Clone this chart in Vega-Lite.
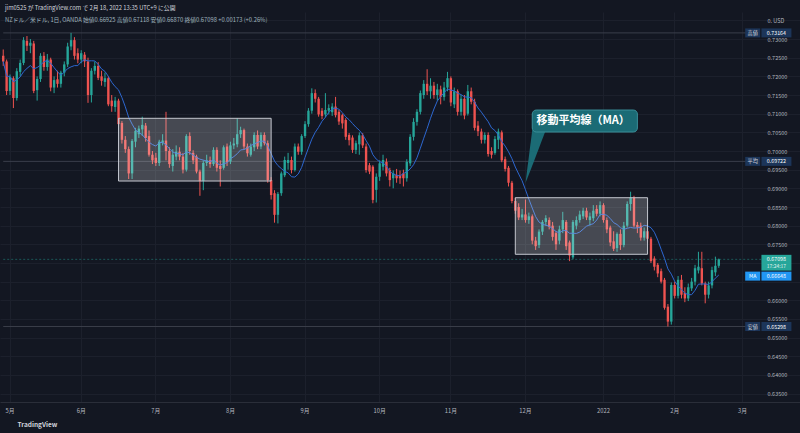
{
  "$schema": "https://vega.github.io/schema/vega-lite/v6.json",
  "width": 800,
  "height": 390,
  "autosize": {"type": "none"},
  "padding": {"left": 0, "right": 0, "top": 12, "bottom": 31},
  "background": "#131722",
  "config": {
    "font": "Noto Sans CJK JP",
    "view": {"stroke": null},
    "axis": {"labelFont": "Noto Sans CJK JP", "titleFont": "Noto Sans CJK JP", "gridColor": "#1c202c", "gridWidth": 1, "labelOverlap": false}
  },
  "title": {
    "text": "jim0525 が TradingView.com で 2月 18, 2022 13:35 UTC+9 に公開",
    "subtitle": "NZドル／米ドル, 1日, OANDA  始値0.66925  高値0.67118  安値0.66870  終値0.67098  +0.00173 (+0.26%)",
    "anchor": "start",
    "frame": "group",
    "orient": "top",
    "offset": -11,
    "dx": 5,
    "font": "Noto Sans CJK JP",
    "fontSize": 5.8,
    "fontWeight": "normal",
    "color": "#d1d4dc",
    "subtitleFont": "Noto Sans CJK JP",
    "subtitleFontSize": 5.8,
    "subtitleColor": "#9fb3bd",
    "subtitlePadding": 6
  },
  "datasets": {
    "ohlc": [
      {"d":"2021-04-29","o":0.7255,"h":0.7272,"l":0.7228,"c":0.7240},
      {"d":"2021-04-30","o":0.7240,"h":0.7245,"l":0.7150,"c":0.7161},
      {"d":"2021-05-03","o":0.7161,"h":0.7205,"l":0.7150,"c":0.7198},
      {"d":"2021-05-04","o":0.7195,"h":0.7200,"l":0.7115,"c":0.7142},
      {"d":"2021-05-05","o":0.7142,"h":0.7222,"l":0.7135,"c":0.7214},
      {"d":"2021-05-06","o":0.7212,"h":0.7245,"l":0.7200,"c":0.7236},
      {"d":"2021-05-07","o":0.7236,"h":0.7305,"l":0.7230,"c":0.7297},
      {"d":"2021-05-10","o":0.7295,"h":0.7308,"l":0.7268,"c":0.7282},
      {"d":"2021-05-11","o":0.7282,"h":0.7300,"l":0.7262,"c":0.7290},
      {"d":"2021-05-12","o":0.7288,"h":0.7295,"l":0.7155,"c":0.7161},
      {"d":"2021-05-13","o":0.7163,"h":0.7200,"l":0.7135,"c":0.7193},
      {"d":"2021-05-14","o":0.7193,"h":0.7262,"l":0.7185,"c":0.7255},
      {"d":"2021-05-17","o":0.7255,"h":0.7265,"l":0.7215,"c":0.7225},
      {"d":"2021-05-18","o":0.7225,"h":0.7260,"l":0.7215,"c":0.7245},
      {"d":"2021-05-19","o":0.7245,"h":0.7250,"l":0.7160,"c":0.7170},
      {"d":"2021-05-20","o":0.7170,"h":0.7200,"l":0.7155,"c":0.7190},
      {"d":"2021-05-21","o":0.7192,"h":0.7215,"l":0.7170,"c":0.7180},
      {"d":"2021-05-24","o":0.7180,"h":0.7215,"l":0.7170,"c":0.7210},
      {"d":"2021-05-25","o":0.7210,"h":0.7240,"l":0.7200,"c":0.7232},
      {"d":"2021-05-26","o":0.7232,"h":0.7290,"l":0.7225,"c":0.7280},
      {"d":"2021-05-27","o":0.7280,"h":0.73164,"l":0.7270,"c":0.7297},
      {"d":"2021-05-28","o":0.7297,"h":0.7305,"l":0.7245,"c":0.7255},
      {"d":"2021-05-31","o":0.7262,"h":0.7275,"l":0.7235,"c":0.7245},
      {"d":"2021-06-01","o":0.7245,"h":0.7270,"l":0.7235,"c":0.7262},
      {"d":"2021-06-02","o":0.7258,"h":0.7265,"l":0.7225,"c":0.7240},
      {"d":"2021-06-03","o":0.7240,"h":0.7250,"l":0.7129,"c":0.7150},
      {"d":"2021-06-04","o":0.7150,"h":0.7222,"l":0.7130,"c":0.7215},
      {"d":"2021-06-07","o":0.7215,"h":0.7240,"l":0.7205,"c":0.7228},
      {"d":"2021-06-08","o":0.7228,"h":0.7238,"l":0.7190,"c":0.7196},
      {"d":"2021-06-09","o":0.7200,"h":0.7215,"l":0.7175,"c":0.7188},
      {"d":"2021-06-10","o":0.7185,"h":0.7210,"l":0.7172,"c":0.7195},
      {"d":"2021-06-11","o":0.7195,"h":0.7200,"l":0.7120,"c":0.7125},
      {"d":"2021-06-14","o":0.7135,"h":0.7150,"l":0.7105,"c":0.7120},
      {"d":"2021-06-15","o":0.7118,"h":0.7145,"l":0.7105,"c":0.7135},
      {"d":"2021-06-16","o":0.7135,"h":0.7140,"l":0.7065,"c":0.7072},
      {"d":"2021-06-17","o":0.7075,"h":0.7080,"l":0.7020,"c":0.7030},
      {"d":"2021-06-18","o":0.7030,"h":0.7040,"l":0.6995,"c":0.7005},
      {"d":"2021-06-21","o":0.7005,"h":0.7012,"l":0.6925,"c":0.6940},
      {"d":"2021-06-22","o":0.6940,"h":0.7032,"l":0.6925,"c":0.7027},
      {"d":"2021-06-23","o":0.7025,"h":0.7062,"l":0.7010,"c":0.7054},
      {"d":"2021-06-24","o":0.7045,"h":0.7068,"l":0.7035,"c":0.7060},
      {"d":"2021-06-25","o":0.7058,"h":0.7092,"l":0.7040,"c":0.7070},
      {"d":"2021-06-28","o":0.7068,"h":0.7075,"l":0.7025,"c":0.7035},
      {"d":"2021-06-29","o":0.7040,"h":0.7055,"l":0.6985,"c":0.6990},
      {"d":"2021-06-30","o":0.6990,"h":0.7000,"l":0.6965,"c":0.6975},
      {"d":"2021-07-01","o":0.6982,"h":0.6995,"l":0.6960,"c":0.6968},
      {"d":"2021-07-02","o":0.6968,"h":0.7030,"l":0.6960,"c":0.7025},
      {"d":"2021-07-05","o":0.7022,"h":0.7045,"l":0.7015,"c":0.7028},
      {"d":"2021-07-06","o":0.7028,"h":0.7105,"l":0.6975,"c":0.7000},
      {"d":"2021-07-07","o":0.7000,"h":0.7010,"l":0.6955,"c":0.6965},
      {"d":"2021-07-08","o":0.6960,"h":0.7005,"l":0.6945,"c":0.6990},
      {"d":"2021-07-09","o":0.6985,"h":0.7015,"l":0.6975,"c":0.6998},
      {"d":"2021-07-12","o":0.6998,"h":0.7010,"l":0.6975,"c":0.6985},
      {"d":"2021-07-13","o":0.6985,"h":0.6995,"l":0.6940,"c":0.6950},
      {"d":"2021-07-14","o":0.6950,"h":0.7045,"l":0.6945,"c":0.7040},
      {"d":"2021-07-15","o":0.7040,"h":0.7050,"l":0.6990,"c":0.7000},
      {"d":"2021-07-16","o":0.6995,"h":0.7002,"l":0.6965,"c":0.6975},
      {"d":"2021-07-19","o":0.6985,"h":0.6990,"l":0.6940,"c":0.6945},
      {"d":"2021-07-20","o":0.6945,"h":0.6950,"l":0.6880,"c":0.6920},
      {"d":"2021-07-21","o":0.6920,"h":0.6975,"l":0.6895,"c":0.6968},
      {"d":"2021-07-22","o":0.6968,"h":0.6990,"l":0.6960,"c":0.6975},
      {"d":"2021-07-23","o":0.6975,"h":0.6985,"l":0.6955,"c":0.6965},
      {"d":"2021-07-26","o":0.6965,"h":0.7010,"l":0.6960,"c":0.7003},
      {"d":"2021-07-27","o":0.7003,"h":0.7010,"l":0.6945,"c":0.6955},
      {"d":"2021-07-28","o":0.6960,"h":0.6975,"l":0.6905,"c":0.6952},
      {"d":"2021-07-29","o":0.6955,"h":0.7015,"l":0.6950,"c":0.7010},
      {"d":"2021-07-30","o":0.7012,"h":0.7020,"l":0.6960,"c":0.6970},
      {"d":"2021-08-02","o":0.6972,"h":0.7025,"l":0.6965,"c":0.7015},
      {"d":"2021-08-03","o":0.7015,"h":0.7035,"l":0.7005,"c":0.7020},
      {"d":"2021-08-04","o":0.7018,"h":0.7088,"l":0.7010,"c":0.7045},
      {"d":"2021-08-05","o":0.7045,"h":0.7065,"l":0.7035,"c":0.7056},
      {"d":"2021-08-06","o":0.7056,"h":0.7060,"l":0.7005,"c":0.7012},
      {"d":"2021-08-09","o":0.7012,"h":0.7020,"l":0.6985,"c":0.6994},
      {"d":"2021-08-10","o":0.6990,"h":0.7020,"l":0.6985,"c":0.7012},
      {"d":"2021-08-11","o":0.7010,"h":0.7050,"l":0.7000,"c":0.7043},
      {"d":"2021-08-12","o":0.7043,"h":0.7055,"l":0.7005,"c":0.7012},
      {"d":"2021-08-13","o":0.7012,"h":0.7050,"l":0.7005,"c":0.7043},
      {"d":"2021-08-16","o":0.7043,"h":0.7050,"l":0.7015,"c":0.7021},
      {"d":"2021-08-17","o":0.7021,"h":0.7028,"l":0.6915,"c":0.6922},
      {"d":"2021-08-18","o":0.6922,"h":0.6930,"l":0.6870,"c":0.6882},
      {"d":"2021-08-19","o":0.6887,"h":0.6895,"l":0.6808,"c":0.6829},
      {"d":"2021-08-20","o":0.6829,"h":0.6890,"l":0.6806,"c":0.6885},
      {"d":"2021-08-23","o":0.6887,"h":0.6945,"l":0.6880,"c":0.6940},
      {"d":"2021-08-24","o":0.6935,"h":0.6985,"l":0.6930,"c":0.6976},
      {"d":"2021-08-25","o":0.6968,"h":0.6995,"l":0.6950,"c":0.6976},
      {"d":"2021-08-26","o":0.6976,"h":0.6985,"l":0.6940,"c":0.6949},
      {"d":"2021-08-27","o":0.6949,"h":0.7020,"l":0.6945,"c":0.7012},
      {"d":"2021-08-30","o":0.7012,"h":0.7020,"l":0.6990,"c":0.6998},
      {"d":"2021-08-31","o":0.6998,"h":0.7045,"l":0.6990,"c":0.7040},
      {"d":"2021-09-01","o":0.7040,"h":0.7080,"l":0.7035,"c":0.7072},
      {"d":"2021-09-02","o":0.7072,"h":0.7115,"l":0.7065,"c":0.7108},
      {"d":"2021-09-03","o":0.7108,"h":0.7168,"l":0.7100,"c":0.7155},
      {"d":"2021-09-06","o":0.7155,"h":0.7165,"l":0.7130,"c":0.7140},
      {"d":"2021-09-07","o":0.7140,"h":0.7145,"l":0.7092,"c":0.7098},
      {"d":"2021-09-08","o":0.7108,"h":0.7115,"l":0.7085,"c":0.7094},
      {"d":"2021-09-09","o":0.7098,"h":0.7155,"l":0.7090,"c":0.7110},
      {"d":"2021-09-10","o":0.7108,"h":0.7125,"l":0.7098,"c":0.7115},
      {"d":"2021-09-13","o":0.7104,"h":0.7128,"l":0.7094,"c":0.7119},
      {"d":"2021-09-14","o":0.7119,"h":0.7145,"l":0.7090,"c":0.7096},
      {"d":"2021-09-15","o":0.7105,"h":0.7110,"l":0.7070,"c":0.7079},
      {"d":"2021-09-16","o":0.7096,"h":0.7100,"l":0.7060,"c":0.7074},
      {"d":"2021-09-17","o":0.7083,"h":0.7088,"l":0.7030,"c":0.7038},
      {"d":"2021-09-20","o":0.7043,"h":0.7048,"l":0.7015,"c":0.7029},
      {"d":"2021-09-21","o":0.7036,"h":0.7042,"l":0.6995,"c":0.7003},
      {"d":"2021-09-22","o":0.7003,"h":0.7028,"l":0.6992,"c":0.7021},
      {"d":"2021-09-23","o":0.7018,"h":0.7050,"l":0.6990,"c":0.7042},
      {"d":"2021-09-24","o":0.7042,"h":0.7048,"l":0.7008,"c":0.7015},
      {"d":"2021-09-27","o":0.7012,"h":0.7020,"l":0.6942,"c":0.6949},
      {"d":"2021-09-28","o":0.6962,"h":0.6968,"l":0.6938,"c":0.6945},
      {"d":"2021-09-29","o":0.6958,"h":0.6962,"l":0.6860,"c":0.6869},
      {"d":"2021-09-30","o":0.6896,"h":0.6940,"l":0.6862,"c":0.6931},
      {"d":"2021-10-01","o":0.6931,"h":0.6975,"l":0.6920,"c":0.6967},
      {"d":"2021-10-04","o":0.6958,"h":0.6990,"l":0.6948,"c":0.6976},
      {"d":"2021-10-05","o":0.6971,"h":0.6980,"l":0.6932,"c":0.6940},
      {"d":"2021-10-06","o":0.6949,"h":0.6955,"l":0.6905,"c":0.6922},
      {"d":"2021-10-07","o":0.6927,"h":0.6948,"l":0.6900,"c":0.6940},
      {"d":"2021-10-08","o":0.6936,"h":0.6952,"l":0.6915,"c":0.6927},
      {"d":"2021-10-11","o":0.6936,"h":0.6948,"l":0.6912,"c":0.6927},
      {"d":"2021-10-12","o":0.6940,"h":0.6950,"l":0.6905,"c":0.6927},
      {"d":"2021-10-13","o":0.6927,"h":0.6978,"l":0.6918,"c":0.6971},
      {"d":"2021-10-14","o":0.6967,"h":0.7045,"l":0.6960,"c":0.7038},
      {"d":"2021-10-15","o":0.7038,"h":0.7088,"l":0.7028,"c":0.7078},
      {"d":"2021-10-18","o":0.7078,"h":0.7112,"l":0.7068,"c":0.7105},
      {"d":"2021-10-19","o":0.7105,"h":0.7162,"l":0.7098,"c":0.7155},
      {"d":"2021-10-20","o":0.7150,"h":0.7190,"l":0.7140,"c":0.7180},
      {"d":"2021-10-21","o":0.7180,"h":0.7219,"l":0.7150,"c":0.7160},
      {"d":"2021-10-22","o":0.7160,"h":0.7195,"l":0.7140,"c":0.7175},
      {"d":"2021-10-25","o":0.7175,"h":0.7185,"l":0.7140,"c":0.7150},
      {"d":"2021-10-26","o":0.7150,"h":0.7180,"l":0.7135,"c":0.7165},
      {"d":"2021-10-27","o":0.7165,"h":0.7175,"l":0.7125,"c":0.7145},
      {"d":"2021-10-28","o":0.7145,"h":0.7185,"l":0.7135,"c":0.7170},
      {"d":"2021-10-29","o":0.7170,"h":0.7212,"l":0.7160,"c":0.7195},
      {"d":"2021-11-01","o":0.7195,"h":0.7200,"l":0.7120,"c":0.7130},
      {"d":"2021-11-02","o":0.7125,"h":0.7170,"l":0.7115,"c":0.7160},
      {"d":"2021-11-03","o":0.7160,"h":0.7165,"l":0.7095,"c":0.7105},
      {"d":"2021-11-04","o":0.7105,"h":0.7150,"l":0.7095,"c":0.7140},
      {"d":"2021-11-05","o":0.7140,"h":0.7150,"l":0.7085,"c":0.7095},
      {"d":"2021-11-08","o":0.7100,"h":0.7177,"l":0.7095,"c":0.7160},
      {"d":"2021-11-09","o":0.7160,"h":0.7170,"l":0.7125,"c":0.7132},
      {"d":"2021-11-10","o":0.7132,"h":0.7140,"l":0.7055,"c":0.7062},
      {"d":"2021-11-11","o":0.7068,"h":0.7080,"l":0.7040,"c":0.7053},
      {"d":"2021-11-12","o":0.7052,"h":0.7060,"l":0.7020,"c":0.7030},
      {"d":"2021-11-15","o":0.7030,"h":0.7050,"l":0.7020,"c":0.7043},
      {"d":"2021-11-16","o":0.7043,"h":0.7050,"l":0.6985,"c":0.6992},
      {"d":"2021-11-17","o":0.7000,"h":0.7010,"l":0.6980,"c":0.6990},
      {"d":"2021-11-18","o":0.6995,"h":0.7040,"l":0.6990,"c":0.7032},
      {"d":"2021-11-19","o":0.7030,"h":0.7060,"l":0.7005,"c":0.7052},
      {"d":"2021-11-22","o":0.7050,"h":0.7055,"l":0.6970,"c":0.6975},
      {"d":"2021-11-23","o":0.6978,"h":0.6985,"l":0.6945,"c":0.6952},
      {"d":"2021-11-24","o":0.6955,"h":0.6960,"l":0.6905,"c":0.6915},
      {"d":"2021-11-25","o":0.6915,"h":0.6920,"l":0.6860,"c":0.6866},
      {"d":"2021-11-26","o":0.6866,"h":0.6875,"l":0.6832,"c":0.6840},
      {"d":"2021-11-29","o":0.6850,"h":0.6860,"l":0.6815,"c":0.6822},
      {"d":"2021-11-30","o":0.6822,"h":0.6845,"l":0.6815,"c":0.6830},
      {"d":"2021-12-01","o":0.6830,"h":0.6870,"l":0.6808,"c":0.6815},
      {"d":"2021-12-02","o":0.6815,"h":0.6835,"l":0.6805,"c":0.6825},
      {"d":"2021-12-03","o":0.6825,"h":0.6830,"l":0.6750,"c":0.6760},
      {"d":"2021-12-06","o":0.6760,"h":0.6770,"l":0.6735,"c":0.6745},
      {"d":"2021-12-07","o":0.6748,"h":0.6790,"l":0.6740,"c":0.6784},
      {"d":"2021-12-08","o":0.6784,"h":0.6815,"l":0.6775,"c":0.6810},
      {"d":"2021-12-09","o":0.6810,"h":0.6828,"l":0.6800,"c":0.6820},
      {"d":"2021-12-10","o":0.6815,"h":0.6822,"l":0.6790,"c":0.6797},
      {"d":"2021-12-13","o":0.6800,"h":0.6810,"l":0.6760,"c":0.6770},
      {"d":"2021-12-14","o":0.6780,"h":0.6785,"l":0.6735,"c":0.6750},
      {"d":"2021-12-15","o":0.6760,"h":0.6800,"l":0.6750,"c":0.6790},
      {"d":"2021-12-16","o":0.6790,"h":0.6837,"l":0.6780,"c":0.6815},
      {"d":"2021-12-17","o":0.6810,"h":0.6815,"l":0.6735,"c":0.6745},
      {"d":"2021-12-20","o":0.6755,"h":0.6760,"l":0.6705,"c":0.6720},
      {"d":"2021-12-21","o":0.6715,"h":0.6815,"l":0.6710,"c":0.6810},
      {"d":"2021-12-22","o":0.6800,"h":0.6825,"l":0.6790,"c":0.6815},
      {"d":"2021-12-23","o":0.6815,"h":0.6840,"l":0.6808,"c":0.6830},
      {"d":"2021-12-24","o":0.6825,"h":0.6848,"l":0.6818,"c":0.6840},
      {"d":"2021-12-27","o":0.6840,"h":0.6848,"l":0.6815,"c":0.6822},
      {"d":"2021-12-28","o":0.6815,"h":0.6835,"l":0.6800,"c":0.6825},
      {"d":"2021-12-29","o":0.6820,"h":0.6855,"l":0.6812,"c":0.6840},
      {"d":"2021-12-30","o":0.6845,"h":0.6855,"l":0.6825,"c":0.6832},
      {"d":"2021-12-31","o":0.6832,"h":0.6865,"l":0.6825,"c":0.6855},
      {"d":"2022-01-03","o":0.6855,"h":0.6860,"l":0.6808,"c":0.6815},
      {"d":"2022-01-04","o":0.6815,"h":0.6822,"l":0.6780,"c":0.6790},
      {"d":"2022-01-05","o":0.6795,"h":0.6800,"l":0.6745,"c":0.6755},
      {"d":"2022-01-06","o":0.6758,"h":0.6785,"l":0.6732,"c":0.6738},
      {"d":"2022-01-07","o":0.6740,"h":0.6782,"l":0.6730,"c":0.6778},
      {"d":"2022-01-10","o":0.6778,"h":0.6790,"l":0.6735,"c":0.6748},
      {"d":"2022-01-11","o":0.6748,"h":0.6810,"l":0.6742,"c":0.6800},
      {"d":"2022-01-12","o":0.6800,"h":0.6865,"l":0.6795,"c":0.6858},
      {"d":"2022-01-13","o":0.6858,"h":0.6891,"l":0.6840,"c":0.6875},
      {"d":"2022-01-14","o":0.6875,"h":0.6880,"l":0.6795,"c":0.6800},
      {"d":"2022-01-17","o":0.6802,"h":0.6810,"l":0.6780,"c":0.6795},
      {"d":"2022-01-18","o":0.6800,"h":0.6808,"l":0.6760,"c":0.6768},
      {"d":"2022-01-19","o":0.6768,"h":0.6795,"l":0.6760,"c":0.6785},
      {"d":"2022-01-20","o":0.6785,"h":0.6795,"l":0.6755,"c":0.6765},
      {"d":"2022-01-21","o":0.6765,"h":0.6770,"l":0.6700,"c":0.6705},
      {"d":"2022-01-24","o":0.6712,"h":0.6718,"l":0.6680,"c":0.6690},
      {"d":"2022-01-25","o":0.6695,"h":0.6700,"l":0.6662,"c":0.6672},
      {"d":"2022-01-26","o":0.6678,"h":0.6685,"l":0.6645,"c":0.6650},
      {"d":"2022-01-27","o":0.6655,"h":0.6660,"l":0.6575,"c":0.6580},
      {"d":"2022-01-28","o":0.6583,"h":0.6590,"l":0.65298,"c":0.6543},
      {"d":"2022-01-31","o":0.6543,"h":0.6648,"l":0.6535,"c":0.6641},
      {"d":"2022-02-01","o":0.6641,"h":0.6650,"l":0.6605,"c":0.6612},
      {"d":"2022-02-02","o":0.6612,"h":0.6665,"l":0.6605,"c":0.6655},
      {"d":"2022-02-03","o":0.6655,"h":0.6668,"l":0.6605,"c":0.6615},
      {"d":"2022-02-04","o":0.6620,"h":0.6635,"l":0.6595,"c":0.6605},
      {"d":"2022-02-07","o":0.6605,"h":0.6645,"l":0.6598,"c":0.6635},
      {"d":"2022-02-08","o":0.6632,"h":0.6660,"l":0.6625,"c":0.6650},
      {"d":"2022-02-09","o":0.6650,"h":0.6695,"l":0.6640,"c":0.6686},
      {"d":"2022-02-10","o":0.6680,"h":0.6730,"l":0.6672,"c":0.6690},
      {"d":"2022-02-11","o":0.6686,"h":0.6730,"l":0.6640,"c":0.6645},
      {"d":"2022-02-14","o":0.6645,"h":0.6650,"l":0.6592,"c":0.6615},
      {"d":"2022-02-15","o":0.6615,"h":0.6650,"l":0.6605,"c":0.6640},
      {"d":"2022-02-16","o":0.6640,"h":0.6690,"l":0.6632,"c":0.6681},
      {"d":"2022-02-17","o":0.6675,"h":0.6717,"l":0.6665,"c":0.66925},
      {"d":"2022-02-18","o":0.66925,"h":0.67118,"l":0.66870,"c":0.67098}
    ],
    "levels": [
      {"t":"高値","v":0.73164,"kind":"hl"},
      {"t":"平均","v":0.69722,"kind":"hl"},
      {"t":"安値","v":0.65298,"kind":"hl"},
      {"t":"MA","v":0.66648,"kind":"ma"},
      {"t":"","v":0.67098,"kind":"last","sub":"17:24:17"}
    ],
    "boxes": [
      {"d1":"2021-06-16","d2":"2021-08-18","top":0.70876,"bot":0.69196},
      {"d1":"2021-11-26","d2":"2022-01-20","top":0.68749,"bot":0.67233}
    ],
    "callout": [
      {"d1":"2021-12-03","d2":"2022-01-17","top":0.71098,"bot":0.70509,"dm":"2021-12-24","ym":0.70804,"label":"移動平均線（MA）"}
    ],
    "tail": [
      {"d":"2021-12-01","lo":0.69143,"hi":0.69143},
      {"d":"2021-12-03","lo":0.69606,"hi":0.70563},
      {"d":"2021-12-09","lo":0.70563,"hi":0.70563}
    ]
  },
  "encoding": {
    "x": {
      "field": "d",
      "type": "ordinal",
      "scale": {
        "domain": {"unionWith": ["2022-02-21","2022-02-22","2022-02-23","2022-02-24","2022-02-25","2022-02-28","2022-03-01","2022-03-02","2022-03-03","2022-03-04","2022-03-07","2022-03-08","2022-03-09","2022-03-10","2022-03-11","2022-03-14","2022-03-15","2022-03-16","2022-03-17","2022-03-18","2022-03-21","2022-03-22","2022-03-23"]},
        "paddingInner": 0.3,
        "paddingOuter": 0.6
      },
      "axis": {
        "values": ["2021-05-03","2021-06-01","2021-07-01","2021-08-02","2021-09-01","2021-10-01","2021-11-01","2021-12-01","2022-01-03","2022-02-01","2022-03-01"],
        "labelExpr": "substring(datum.value,5,7)=='01' ? '2022' : (toNumber(substring(datum.value,5,7)) + '月')",
        "labelAngle": 0,
        "labelFontSize": 5.8,
        "labelColor": "#b2b5be",
        "labelPadding": 5,
        "labelOverlap": false,
        "ticks": false,
        "domain": true,
        "domainColor": "#2a2e39",
        "grid": true,
        "title": "TradingView",
        "titleX": 17,
        "titleY": 22,
        "titleAlign": "left",
        "titleAnchor": "start",
        "titleBaseline": "middle",
        "titleFontSize": 6.5,
        "titleFontWeight": "bold",
        "titleColor": "#d1d4dc"
      }
    }
  },
  "layer": [
    {
      "data": {"name": "levels"},
      "transform": [{"filter": "datum.kind == 'hl'"}],
      "mark": {"type": "rule", "stroke": "#3a3e4a", "strokeWidth": 1},
      "encoding": {
        "x": {"datum": "2021-04-29", "type": "ordinal"},
        "x2": {"datum": "2022-03-02"},
        "y": {
          "field": "v",
          "type": "quantitative",
          "scale": {"domain": [0.63276, 0.73724], "nice": false, "zero": false},
          "axis": {
            "orient": "right",
            "title": null,
            "values": [0.635,0.64,0.645,0.65,0.655,0.66,0.665,0.67,0.675,0.68,0.685,0.69,0.695,0.7,0.705,0.71,0.715,0.72,0.725,0.73,0.735],
            "tickCount": 40,
            "labelExpr": "datum.value > 0.7345 ? '0.    USD' : (abs(datum.value - 0.67) < 0.0001 || abs(datum.value - 0.665) < 0.0001) ? '' : format(datum.value, '.5f')",
            "labelFontSize": 5.5,
            "labelColor": "#b2b5be",
            "labelAlign": "left",
            "labelPadding": -33,
            "labelOverlap": false,
            "labelFlush": false,
            "ticks": false,
            "tickSize": 0,
            "domain": false,
            "grid": true
          }
        }
      }
    },
    {
      "data": {"name": "levels"},
      "transform": [{"filter": "datum.kind == 'last'"}],
      "mark": {"type": "rule", "stroke": "#26a69a", "strokeOpacity": 0.45, "strokeDash": [2, 2], "strokeWidth": 1},
      "encoding": {
        "x": {"datum": "2021-04-29", "type": "ordinal"},
        "x2": {"datum": "2022-03-09"},
        "y": {"field": "v", "type": "quantitative"}
      }
    },
    {
      "data": {"name": "ohlc"},
      "mark": {"type": "rule", "strokeWidth": 1},
      "encoding": {
        "y": {"field": "l", "type": "quantitative"},
        "y2": {"field": "h"},
        "color": {"condition": {"test": "datum.c >= datum.o", "value": "#26a69a"}, "value": "#ef5350"}
      }
    },
    {
      "data": {"name": "ohlc"},
      "mark": {"type": "bar"},
      "encoding": {
        "y": {"field": "o", "type": "quantitative"},
        "y2": {"field": "c"},
        "color": {"condition": {"test": "datum.c >= datum.o", "value": "#26a69a"}, "value": "#ef5350"}
      }
    },
    {
      "data": {"name": "ohlc"},
      "transform": [{"window": [{"op": "mean", "field": "c", "as": "ma"}], "frame": [-8, 0], "sort": [{"field": "d", "order": "ascending"}]}],
      "mark": {"type": "line", "stroke": "#2d67d0", "strokeWidth": 1},
      "encoding": {
        "y": {"field": "ma", "type": "quantitative"}
      }
    },
    {
      "data": {"name": "boxes"},
      "mark": {"type": "rect", "fill": "#ffffff", "fillOpacity": 0.22, "stroke": "#c3c6ce", "strokeWidth": 1},
      "encoding": {
        "x": {"field": "d1", "type": "ordinal", "bandPosition": 0.5},
        "x2": {"field": "d2", "bandPosition": 0.5},
        "y": {"field": "top", "type": "quantitative"},
        "y2": {"field": "bot"}
      }
    },
    {
      "data": {"name": "tail"},
      "mark": {"type": "area", "fill": "#1b6b75", "interpolate": "linear"},
      "encoding": {
        "y": {"field": "hi", "type": "quantitative"},
        "y2": {"field": "lo"}
      }
    },
    {
      "data": {"name": "callout"},
      "mark": {"type": "rect", "fill": "#1b6b75", "stroke": "#3a8f99", "strokeWidth": 1, "cornerRadius": 4},
      "encoding": {
        "x": {"field": "d1", "type": "ordinal", "bandPosition": 0.5},
        "x2": {"field": "d2", "bandPosition": 0.5},
        "y": {"field": "top", "type": "quantitative"},
        "y2": {"field": "bot"}
      }
    },
    {
      "data": {"name": "callout"},
      "mark": {"type": "text", "color": "#ffffff", "fontSize": 11, "fontWeight": "bold", "font": "Noto Sans CJK JP", "align": "center", "baseline": "middle"},
      "encoding": {
        "x": {"field": "dm", "type": "ordinal"},
        "y": {"field": "ym", "type": "quantitative"},
        "text": {"field": "label"}
      }
    },
    {
      "data": {"name": "levels"},
      "transform": [{"filter": "datum.kind != 'last'"}],
      "mark": {"type": "point", "shape": "M-1,-0.6H1V0.6H-1Z", "size": 225, "filled": true, "opacity": 1, "strokeWidth": 0},
      "encoding": {
        "x": {"datum": "2022-03-04", "type": "ordinal"},
        "y": {"field": "v", "type": "quantitative"},
        "color": {"condition": {"test": "datum.kind == 'ma'", "value": "#2196f3"}, "value": "#1c3559"}
      }
    },
    {
      "data": {"name": "levels"},
      "transform": [{"filter": "datum.kind != 'last'"}],
      "mark": {"type": "text", "fontSize": 5.2, "font": "Noto Sans CJK JP", "align": "center", "baseline": "middle"},
      "encoding": {
        "x": {"datum": "2022-03-04", "type": "ordinal"},
        "y": {"field": "v", "type": "quantitative"},
        "text": {"field": "t"},
        "color": {"condition": {"test": "datum.kind == 'ma'", "value": "#ffffff"}, "value": "#d1d4dc"}
      }
    },
    {
      "data": {"name": "levels"},
      "transform": [{"filter": "datum.kind != 'last'"}],
      "mark": {"type": "point", "shape": "M-1,-0.3H1V0.3H-1Z", "size": 900, "filled": true, "opacity": 1, "strokeWidth": 0},
      "encoding": {
        "x": {"datum": "2022-03-15", "type": "ordinal"},
        "y": {"field": "v", "type": "quantitative"},
        "color": {"condition": {"test": "datum.kind == 'ma'", "value": "#2196f3"}, "value": "#1c3559"}
      }
    },
    {
      "data": {"name": "levels"},
      "transform": [{"filter": "datum.kind == 'last'"}],
      "mark": {"type": "point", "shape": "M-1,-0.3H1V0.75H-1Z", "size": 900, "filled": true, "opacity": 1, "strokeWidth": 0, "color": "#26a69a"},
      "encoding": {
        "x": {"datum": "2022-03-15", "type": "ordinal"},
        "y": {"field": "v", "type": "quantitative"}
      }
    },
    {
      "data": {"name": "levels"},
      "mark": {"type": "text", "fontSize": 5.3, "font": "Noto Sans CJK JP", "align": "center", "baseline": "middle", "color": "#ffffff"},
      "encoding": {
        "x": {"datum": "2022-03-15", "type": "ordinal"},
        "y": {"field": "v", "type": "quantitative"},
        "text": {"field": "v", "type": "quantitative", "format": ".5f"}
      }
    },
    {
      "data": {"name": "levels"},
      "transform": [{"filter": "datum.kind == 'last'"}],
      "mark": {"type": "text", "fontSize": 5, "font": "Noto Sans CJK JP", "align": "center", "baseline": "middle", "color": "#e0f2f1", "dy": 7},
      "encoding": {
        "x": {"datum": "2022-03-15", "type": "ordinal"},
        "y": {"field": "v", "type": "quantitative"},
        "text": {"field": "sub"}
      }
    }
  ]
}
